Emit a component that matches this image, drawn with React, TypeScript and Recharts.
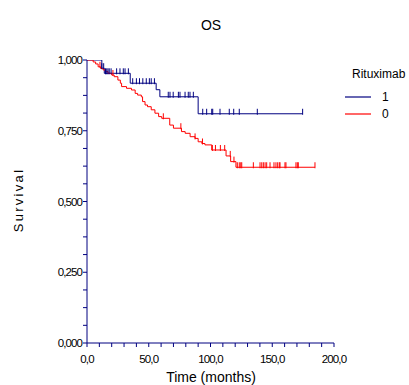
// Kaplan–Meier overall survival by Rituximab group, with censoring ticks.
import { ComposedChart, Line, Scatter, XAxis, YAxis } from 'recharts';

const FONT = '"Liberation Sans", Arial, sans-serif';
const NAVY = '#000080';
const RED = '#ff0000';

// Rituximab = 1: event times (months) and survival after each step
const RTX_TIME = [0, 12, 14, 35, 56, 59, 90, 174.6];
const RTX_SURV = [1, 0.971, 0.953, 0.918, 0.895, 0.87, 0.81, 0.81];
const RTX_CENSOR = [
  12, 13.5, 15, 16, 17, 18, 19.5, 24, 26.7, 29.4, 30.8, 33.5, 37, 40, 42.5,
  45.2, 48, 50.5, 52, 54.6, 65.8, 67.2, 69.8, 74, 75.3, 79.4, 82, 83.4, 86.1,
  93.7, 96.9, 101, 101.8, 107.7, 115.2, 118.8, 123.3, 137.9, 174.6,
];

// Rituximab = 0
const CTRL_TIME = [
  0, 5, 7, 9, 11, 13, 15, 17, 20, 22, 25, 27, 28, 32, 36, 39, 41, 44, 45, 47,
  49, 52, 55, 58, 60.5, 67, 70, 76.5, 79.5, 83.5, 87.5, 90, 93, 95.5, 101,
  112.6, 116.3, 120.6, 184.6,
];
const CTRL_SURV = [
  1, 0.993, 0.986, 0.976, 0.97, 0.965, 0.959, 0.953, 0.947, 0.941, 0.929,
  0.918, 0.906, 0.9, 0.894, 0.882, 0.876, 0.87, 0.853, 0.841, 0.835, 0.824,
  0.812, 0.8, 0.794, 0.77, 0.759, 0.747, 0.741, 0.729, 0.723, 0.711, 0.705,
  0.7, 0.682, 0.661, 0.641, 0.621, 0.621,
];
const CTRL_CENSOR = [
  10.5, 21, 61.8, 76, 87.5, 93.5, 101.5, 104, 108, 111.5, 116, 119, 121.7,
  123.3, 124.5, 125.3, 134.7, 140.1, 141.5, 142.8, 144.2, 145.5, 148.2, 151.4,
  153, 154.4, 155.7, 156.3, 160.3, 161.1, 169.2, 170.3, 171.1, 184.6,
];

const X_TICKS = [
  0, 10, 20, 30, 40, 50, 60, 70, 80, 90, 100, 110, 120, 130, 140, 150, 160,
  170, 180, 190, 200,
];
const Y_TICKS = [
  0, 0.0625, 0.125, 0.1875, 0.25, 0.3125, 0.375, 0.4375, 0.5, 0.5625, 0.625,
  0.6875, 0.75, 0.8125, 0.875, 0.9375, 1,
];

const GROUPS = [
  { name: '1', color: NAVY },
  { name: '0', color: RED },
];

const toCurve = (times: number[], surv: number[]) =>
  times.map((t, i) => ({ t, s: surv[i] }));

// censored subjects sit on the curve at the level in force at that time
const toCensor = (censor: number[], times: number[], surv: number[]) =>
  censor.map((c) => {
    let s = surv[0];
    times.forEach((t, i) => {
      if (t <= c) s = surv[i];
    });
    return { t: c, s };
  });

const rtxCurve = toCurve(RTX_TIME, RTX_SURV);
const ctrlCurve = toCurve(CTRL_TIME, CTRL_SURV);
const rtxCensor = toCensor(RTX_CENSOR, RTX_TIME, RTX_SURV);
const ctrlCensor = toCensor(CTRL_CENSOR, CTRL_TIME, CTRL_SURV);

const isMajor = (v: number, step: number) =>
  Math.abs(v / step - Math.round(v / step)) < 1e-9;

function XTick({ x, y, payload }: any) {
  const v = payload.value as number;
  if (!isMajor(v, 50)) return <g />;
  return (
    <text
      x={x}
      y={y + 16}
      textAnchor="middle"
      fontSize={11.5}
      letterSpacing={-0.9}
      fontFamily={FONT}
      fill="#000"
    >
      {v.toFixed(1).replace('.', ',')}
    </text>
  );
}

function YTick({ x, y, payload }: any) {
  const v = payload.value as number;
  if (!isMajor(v, 0.25)) return <g />;
  return (
    <text
      x={x - 1}
      y={y + 4}
      textAnchor="end"
      fontSize={11.5}
      letterSpacing={-0.9}
      fontFamily={FONT}
      fill="#000"
    >
      {v.toFixed(3).replace('.', ',')}
    </text>
  );
}

const censorMark = (color: string) => (props: any) => (
  <line
    x1={props.cx}
    x2={props.cx}
    y1={props.cy - 5}
    y2={props.cy + 1}
    stroke={color}
    strokeWidth={1}
  />
);

// group key drawn to the right of the plot
function GroupLegend({ x, y }: { x: number; y: number }) {
  return (
    <g transform={`translate(${x}, ${y})`}>
      <text x={12} y={18} fontSize={12} fontFamily={FONT} fill="#000">
        Rituximab
      </text>
      {GROUPS.map((g, i) => (
        <g key={g.name}>
          <line x1={5} x2={31} y1={37 + i * 17} y2={37 + i * 17} stroke={g.color} strokeWidth={1.2} />
          <text x={42} y={41 + i * 17} fontSize={12} fontFamily={FONT} fill="#000">
            {g.name}
          </text>
        </g>
      ))}
    </g>
  );
}

export default function App() {
  return (
    <div style={{ position: 'absolute', left: 0, top: 0, background: '#fff' }}>
      <ComposedChart
        width={409}
        height={385}
        margin={{ top: 60, right: 75, bottom: 0, left: 0 }}
      >
        <XAxis
          type="number"
          dataKey="t"
          domain={[0, 200]}
          ticks={X_TICKS}
          interval={0}
          tick={<XTick />}
          tickSize={4}
          tickMargin={0}
          height={42}
          axisLine={{ stroke: NAVY }}
          tickLine={{ stroke: NAVY }}
          allowDataOverflow
        />
        <YAxis
          type="number"
          domain={[0, 1]}
          ticks={Y_TICKS}
          interval={0}
          tick={<YTick />}
          tickSize={4}
          tickMargin={0}
          width={87}
          axisLine={{ stroke: NAVY }}
          tickLine={{ stroke: NAVY }}
          allowDataOverflow
        />
        <Line
          data={rtxCurve}
          dataKey="s"
          name="1"
          type="stepAfter"
          stroke={NAVY}
          strokeWidth={1}
          dot={false}
          isAnimationActive={false}
        />
        <Line
          data={ctrlCurve}
          dataKey="s"
          name="0"
          type="stepAfter"
          stroke={RED}
          strokeWidth={1}
          dot={false}
          isAnimationActive={false}
        />
        <Scatter
          data={rtxCensor}
          dataKey="s"
          shape={censorMark(NAVY)}
          isAnimationActive={false}
        />
        <Scatter
          data={ctrlCensor}
          dataKey="s"
          shape={censorMark(RED)}
          isAnimationActive={false}
        />
        <GroupLegend x={340} y={60} />
        <text x={211} y={30} textAnchor="middle" fontSize={14} fontFamily={FONT} fill="#000">
          OS
        </text>
        <text
          transform="translate(23, 200) rotate(-90)"
          textAnchor="middle"
          fontSize={13}
          letterSpacing={2.3}
          fontFamily={FONT}
          fill="#000"
        >
          Survival
        </text>
        <text x={211} y={382} textAnchor="middle" fontSize={14} fontFamily={FONT} fill="#000">
          Time (months)
        </text>
      </ComposedChart>
    </div>
  );
}
